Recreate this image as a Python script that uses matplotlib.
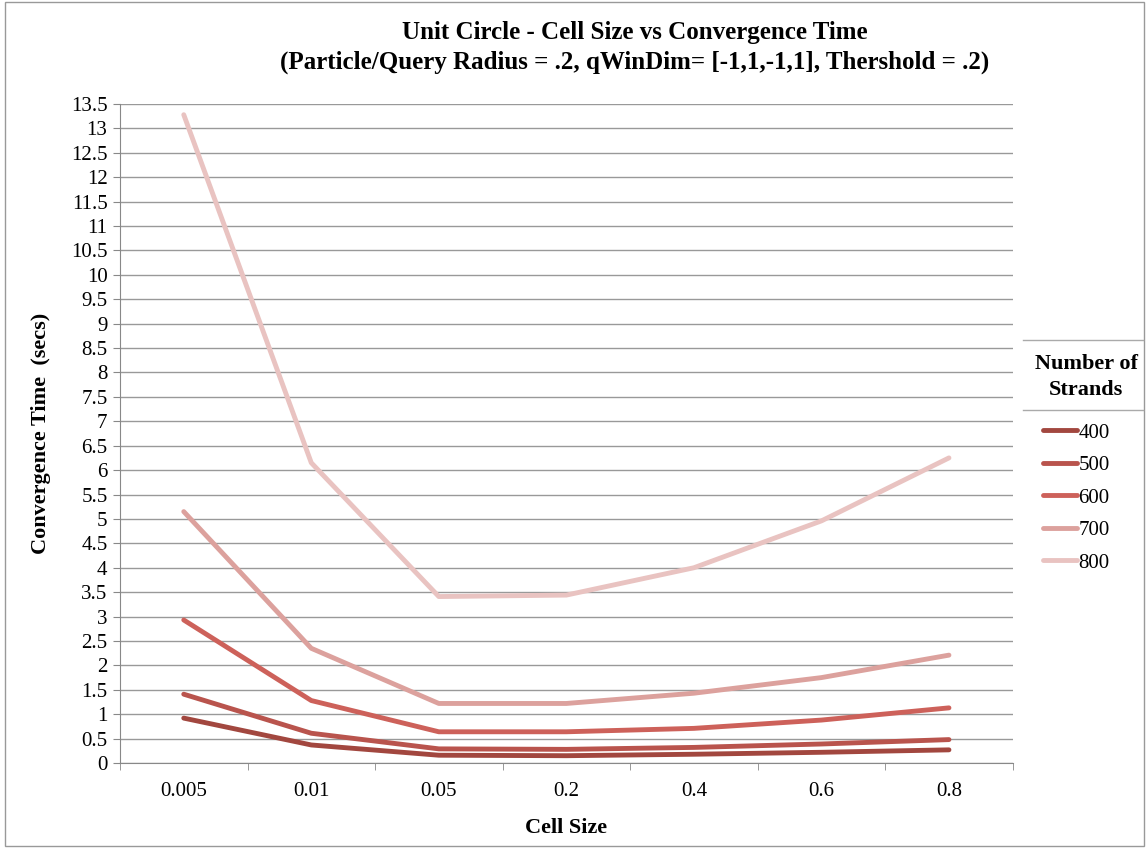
import numpy as np
import matplotlib.pyplot as plt
from matplotlib.patches import Rectangle

plt.rcParams['font.family'] = ['Liberation Serif', 'DejaVu Serif']

cell_sizes = ['0.005', '0.01', '0.05', '0.2', '0.4', '0.6', '0.8']
strands = ['400', '500', '600', '700', '800']
t400 = [0.92, 0.37, 0.16, 0.15, 0.18, 0.22, 0.27]
t500 = [1.41, 0.61, 0.29, 0.28, 0.32, 0.39, 0.48]
t600 = [2.93, 1.28, 0.64, 0.64, 0.71, 0.88, 1.13]
t700 = [5.15, 2.35, 1.22, 1.22, 1.43, 1.75, 2.21]
t800 = [13.28, 6.15, 3.41, 3.44, 4.0, 4.96, 6.25]
series = [t400, t500, t600, t700, t800]
colors = ['#a2473f', '#b9544d', '#cd615a', '#dca19d', '#e9c3c1']

fig = plt.figure(figsize=(11.46, 8.48), dpi=100)
ax = fig.add_axes([0.1047, 0.1002, 0.7790, 0.7772])

x = np.arange(len(cell_sizes))
for s, vals, c in zip(strands, series, colors):
    ax.plot(x, vals, color=c, lw=3.5, label=s, solid_capstyle='round')

ax.set_xlim(-0.5, len(cell_sizes) - 0.5)
ax.set_ylim(0, 13.5)
yt = np.arange(0, 13.51, 0.5)
ax.set_yticks(yt)
ax.set_yticklabels(['%g' % v for v in yt], fontsize=15)
ax.set_xticks(x)
ax.set_xticklabels(cell_sizes, fontsize=15)
ax.set_xticks(np.arange(-0.5, len(cell_sizes)), minor=True)
ax.tick_params(axis='x', which='major', length=0, pad=14)
ax.tick_params(axis='x', which='minor', length=5, color='#888888')
ax.tick_params(axis='y', length=5, color='#888888', pad=4)
ax.grid(axis='y', color='#999999', lw=1)
ax.set_axisbelow(True)
for sp in ['top', 'right']:
    ax.spines[sp].set_visible(False)
for sp in ['left', 'bottom']:
    ax.spines[sp].set_color('#888888')

ax.set_xlabel('Cell Size', fontsize=16, fontweight='bold', labelpad=12)
ax.set_ylabel('Convergence Time  (secs)', fontsize=16, fontweight='bold', labelpad=14)

fig.text(0.554, 0.962, 'Unit Circle - Cell Size vs Convergence Time',
         ha='center', va='center', fontsize=18, fontweight='bold')
fig.text(0.554, 0.926, '(Particle/Query Radius = .2, qWinDim= [-1,1,-1,1], Thershold = .2)',
         ha='center', va='center', fontsize=18, fontweight='bold')

# legend title drawn separately so it fits in the narrow strip
fig.text(0.948, 0.555, 'Number of\nStrands', ha='center', va='center',
         fontsize=16, fontweight='bold', multialignment='center', linespacing=1.4)
leg = fig.legend(loc='upper left', bbox_to_anchor=(0.903, 0.511), frameon=False,
                 fontsize=15, handlelength=1.6, borderaxespad=0,
                 handletextpad=0.1, labelspacing=0.62)
for ln in leg.get_lines():
    ln.set_linewidth(3.5)

fig.add_artist(Rectangle((0.004, 0.002), 0.994, 0.996, transform=fig.transFigure,
                         fill=False, ec='#999999', lw=1))
fig.add_artist(plt.Line2D([0.893, 0.997], [0.599, 0.599], transform=fig.transFigure,
                          color='#aaaaaa', lw=1))
fig.add_artist(plt.Line2D([0.893, 0.997], [0.517, 0.517], transform=fig.transFigure,
                          color='#aaaaaa', lw=1))

fig.savefig('out.png', dpi=100)
